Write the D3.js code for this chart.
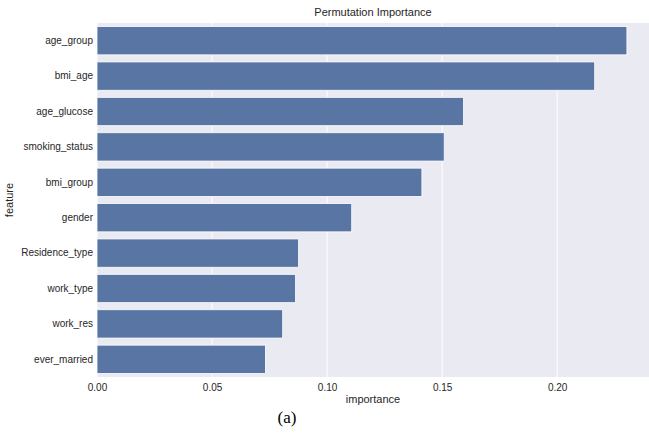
<!DOCTYPE html>
<html>
<head>
<meta charset="utf-8">
<script src="https://cdn.jsdelivr.net/npm/d3@7"></script>
<style>
  html, body { margin: 0; padding: 0; background: #ffffff; }
  svg { display: block; }
  text { font-family: "Liberation Sans", Arial, sans-serif; fill: #262626; }
</style>
</head>
<body>
<svg id="chart" width="649" height="434"></svg>
<script>
// Permutation importance per feature, sorted descending
const features = ["age_group", "bmi_age", "age_glucose", "smoking_status", "bmi_group",
                  "gender", "Residence_type", "work_type", "work_res", "ever_married"];
const importance = [0.2303, 0.2163, 0.1593, 0.1509, 0.1412, 0.1107, 0.0876, 0.0863, 0.0807, 0.0732];
const xTicks = [0.00, 0.05, 0.10, 0.15, 0.20];

const W = 649, H = 434;
const margin = { top: 23, right: 0, bottom: 57, left: 97 };
const innerW = W - margin.left - margin.right;
const innerH = H - margin.top - margin.bottom;

const svg = d3.select("#chart");
const g = svg.append("g").attr("transform", `translate(${margin.left},${margin.top})`);

const x = d3.scaleLinear().domain([0, 0.2399]).range([0, innerW]);
const y = d3.scaleBand().domain(features).range([0, innerH]).paddingInner(0.2).paddingOuter(0.1);

// plot background
g.append("rect").attr("width", innerW).attr("height", innerH).attr("fill", "#eaeaf2");

// vertical grid lines
g.selectAll("line.grid").data(xTicks).join("line")
  .attr("class", "grid")
  .attr("x1", d => x(d)).attr("x2", d => x(d))
  .attr("y1", 0).attr("y2", innerH)
  .attr("stroke", "#ffffff").attr("stroke-width", 1);

// bars
const data = features.map((f, i) => ({ f, v: importance[i] }));
g.selectAll("rect.bar").data(data).join("rect")
  .attr("class", "bar")
  .attr("x", x(0))
  .attr("y", d => y(d.f))
  .attr("width", d => x(d.v) - x(0))
  .attr("height", y.bandwidth())
  .attr("fill", "#5975a4")
  .attr("stroke", "#ffffff")
  .attr("stroke-width", 0.8);

// x axis
const xAxis = d3.axisBottom(x).tickValues(xTicks).tickFormat(d3.format(".2f")).tickSize(0).tickPadding(7);
const gx = g.append("g").attr("transform", `translate(0,${innerH})`).call(xAxis);
gx.select(".domain").remove();
gx.selectAll("text").attr("font-size", 10).style("fill", "#262626")
  .attr("font-family", "Liberation Sans, Arial, sans-serif");

// y axis
const yAxis = d3.axisLeft(y).tickSize(0).tickPadding(4);
const gy = g.append("g").call(yAxis);
gy.select(".domain").remove();
gy.selectAll("text").attr("font-size", 10).style("fill", "#262626")
  .attr("font-family", "Liberation Sans, Arial, sans-serif");

// title
svg.append("text")
  .attr("x", margin.left + innerW / 2).attr("y", 16)
  .attr("text-anchor", "middle").attr("font-size", 11)
  .text("Permutation Importance");

// axis labels
svg.append("text")
  .attr("x", margin.left + innerW / 2).attr("y", 403)
  .attr("text-anchor", "middle").attr("font-size", 11)
  .text("importance");

svg.append("text")
  .attr("transform", `translate(13,${margin.top + innerH / 2}) rotate(-90)`)
  .attr("text-anchor", "middle").attr("font-size", 11)
  .text("feature");

// subfigure caption
svg.append("text")
  .attr("x", 287).attr("y", 423)
  .attr("text-anchor", "middle").attr("font-size", 17)
  .style("font-family", "'Liberation Serif', 'Times New Roman', serif")
  .style("fill", "#000000")
  .text("(a)");
</script>
</body>
</html>
